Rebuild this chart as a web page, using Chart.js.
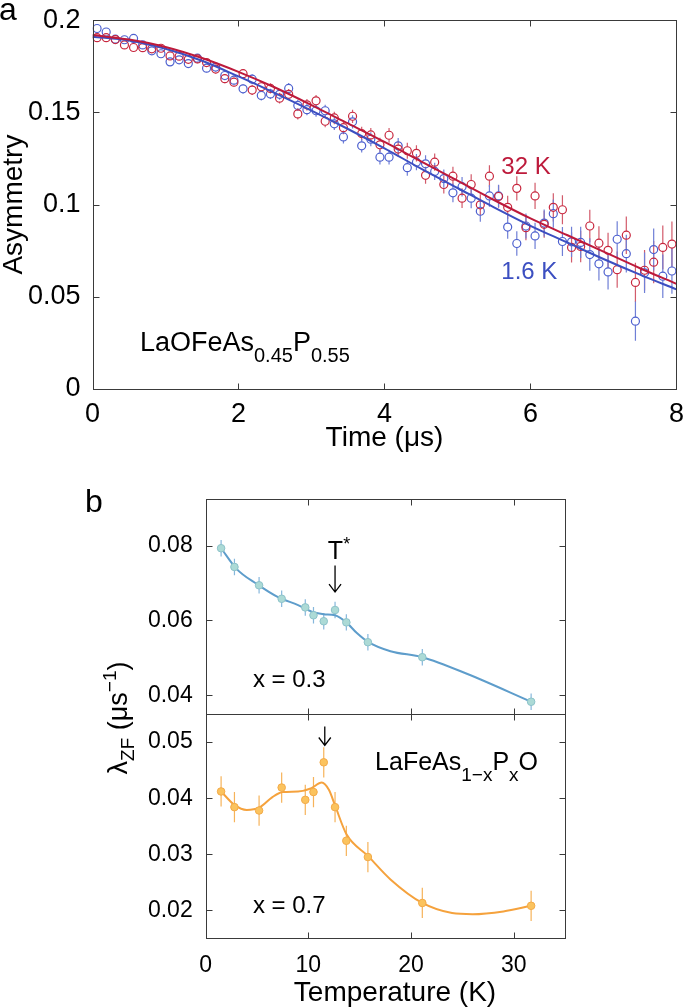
<!DOCTYPE html>
<html>
<head>
<meta charset="utf-8">
<script src="https://cdn.jsdelivr.net/npm/chart.js@4.4.0/dist/chart.umd.min.js"></script>
<style>
  body { margin: 0; background: #fff; width: 685px; height: 1007px; position: relative; overflow: hidden; }
  canvas { position: absolute; left: 0; }
  #chartA { top: 0; }
  #chartB { top: 480px; }
</style>
</head>
<body>
<canvas id="chartA" width="685" height="470"></canvas>
<canvas id="chartB" width="685" height="527"></canvas>
<script>
// ---- panel a : zero-field asymmetry, LaOFeAs0.45P0.55 ----
const timeA = [0.0625,0.1875,0.3125,0.4375,0.5625,0.6875,0.8125,0.9375,1.0625,1.1875,1.3125,1.4375,1.5625,1.6875,1.8125,1.9375,
  2.0625,2.1875,2.3125,2.4375,2.5625,2.6875,2.8125,2.9375,3.0625,3.1875,3.3125,3.4375,3.5625,3.6875,3.8125,3.9375,
  4.0625,4.1875,4.3125,4.4375,4.5625,4.6875,4.8125,4.9375,5.0625,5.1875,5.3125,5.4375,5.5625,5.6875,5.8125,5.9375,
  6.0625,6.1875,6.3125,6.4375,6.5625,6.6875,6.8125,6.9375,7.0625,7.1875,7.3125,7.4375,7.5625,7.6875,7.8125,7.9375];
const asym32K = [0.1905,0.1905,0.1895,0.1866,0.1852,0.1851,0.1845,0.1848,0.1806,0.1805,0.1788,0.1790,0.1770,0.1735,0.1683,0.1664,
  0.1710,0.1621,0.1639,0.1630,0.1577,0.1598,0.1492,0.1541,0.1563,0.1452,0.1470,0.1417,0.1479,0.1385,0.1378,0.1324,
  0.1376,0.1301,0.1292,0.1278,0.1159,0.1230,0.1109,0.1154,0.1035,0.1109,0.0999,0.1154,0.1044,0.0985,0.1088,0.0875,
  0.1047,0.0893,0.0985,0.0972,0.0768,0.0773,0.0884,0.0791,0.0752,0.0647,0.0834,0.0578,0.0644,0.0688,0.0768,0.0786];
const asym1p6K = [0.1955,0.1936,0.1897,0.1894,0.1901,0.1866,0.1834,0.1818,0.1774,0.1785,0.1765,0.1794,0.1740,0.1746,0.1700,0.1675,
  0.1628,0.1680,0.1592,0.1600,0.1598,0.1630,0.1538,0.1515,0.1509,0.1509,0.1438,0.1367,0.1449,0.1319,0.1355,0.1257,
  0.1257,0.1319,0.1200,0.1230,0.1221,0.1180,0.1141,0.1064,0.1097,0.1035,0.0964,0.1047,0.1047,0.0878,0.0789,0.0884,
  0.0830,0.0900,0.0951,0.0800,0.0798,0.0795,0.0729,0.0679,0.0635,0.0812,0.0734,0.0368,0.0630,0.0756,0.0612,0.0640];
const asymErr = [0.0018,0.0018,0.0019,0.0019,0.0020,0.0020,0.0021,0.0021,0.0022,0.0022,0.0023,0.0023,0.0024,0.0024,0.0025,0.0025,
  0.0026,0.0027,0.0027,0.0028,0.0029,0.0029,0.0030,0.0031,0.0032,0.0033,0.0034,0.0035,0.0036,0.0037,0.0038,0.0039,
  0.0040,0.0042,0.0043,0.0044,0.0046,0.0047,0.0049,0.0051,0.0053,0.0055,0.0057,0.0059,0.0061,0.0063,0.0066,0.0068,
  0.0071,0.0073,0.0076,0.0079,0.0082,0.0085,0.0088,0.0091,0.0095,0.0098,0.0102,0.0106,0.0110,0.0114,0.0118,0.0123];
// fitted curves
const timeFit = [0,0.5,1,1.5,2,2.5,3,3.5,4,4.5,5,5.5,6,6.5,7,7.5,8];
const fit32K = [0.192,0.1895,0.1855,0.1795,0.172,0.1635,0.154,0.144,0.134,0.1235,0.113,0.1025,0.0925,0.0835,0.0745,0.0655,0.057];
const fit1p6K = [0.191,0.189,0.1845,0.178,0.1695,0.1605,0.151,0.141,0.1305,0.1195,0.109,0.0985,0.0885,0.0795,0.0705,0.062,0.054];
const tickTimeA = [0, 2, 4, 6, 8];
const tickAsymA = [0, 0.05, 0.1, 0.15, 0.2];

// ---- panel b : relaxation rate vs temperature ----
const tempB = [1.5, 2.8, 5.2, 7.4, 9.7, 10.5, 11.5, 12.6, 13.7, 15.8, 21.1, 31.7];
const lambdaX03 = [0.0793,0.0743,0.0694,0.0658,0.0635,0.0614,0.0598,0.0628,0.0595,0.0542,0.0502,0.0383];
const errX03 = [0.0022,0.0022,0.0022,0.0022,0.0022,0.0022,0.0022,0.0022,0.0022,0.0022,0.0022,0.0022];
const lambdaX07 = [0.0412,0.0384,0.0378,0.0419,0.0397,0.0411,0.0464,0.0384,0.0324,0.0295,0.0213,0.0208];
const errX07 = [0.0027,0.0027,0.0027,0.0027,0.0027,0.0027,0.0027,0.0027,0.0027,0.0027,0.0027,0.0027];
const tempFit03 = [1.5,3,5,7,9,10.5,11.5,12.6,13.7,14.7,15.8,18,21.1,25.5,31.7];
const fitX03 = [0.0793,0.0738,0.0697,0.0663,0.0641,0.0622,0.0617,0.0614,0.0595,0.0567,0.0543,0.0518,0.0502,0.0457,0.0383];
const tempFit07 = [1.5,2.8,4,5.2,6.5,7.5,9,10.3,11.3,12,12.6,13.7,15.8,18,21.1,24,26,29,31.7];
const fitX07 = [0.0412,0.0388,0.0379,0.0383,0.0402,0.0411,0.0412,0.0418,0.0428,0.0415,0.0387,0.0336,0.0297,0.0255,0.0213,0.0195,0.0193,0.0198,0.0208];
const tickTempB = [0, 10, 20, 30];
const tickLamTop = [0.04, 0.06, 0.08];
const tickLamBot = [0.02, 0.03, 0.04, 0.05];

const FONT = '"Liberation Sans", Arial, Helvetica, sans-serif';
Chart.defaults.font.family = FONT;
Chart.defaults.color = '#000';

const RED = '#bd1a3b', BLUE = '#3c4fc1';
const pts = (xs, ys) => xs.map((x, i) => ({ x, y: ys[i] }));
const fmt = v => String(+(+v).toFixed(4));

function richText(ctx, x, y, parts, align, rotate, color) {
  ctx.save();
  ctx.translate(x, y);
  if (rotate) ctx.rotate(-Math.PI / 2);
  ctx.fillStyle = color || '#000';
  ctx.textBaseline = 'alphabetic';
  ctx.textAlign = 'left';
  let w = 0;
  for (const [txt, size] of parts) { ctx.font = size + 'px ' + FONT; w += ctx.measureText(txt).width; }
  let cx = align === 'center' ? -w / 2 : 0;
  for (const [txt, size, dy] of parts) {
    ctx.font = size + 'px ' + FONT;
    ctx.fillText(txt, cx, dy || 0);
    cx += ctx.measureText(txt).width;
  }
  ctx.restore();
}

// frame with inward ticks, error bars, arrows and labels
function makeDecor(spec) {
  return {
    id: 'decor',
    beforeDatasetsDraw(chart) {
      const ctx = chart.ctx;
      chart.data.datasets.forEach((ds, i) => {
        if (!ds.errs) return;
        const meta = chart.getDatasetMeta(i);
        const xs = chart.scales[meta.xAxisID], ys = chart.scales[meta.yAxisID];
        const gap = ds.hollow ? ds.pointRadius : 0;
        ctx.save();
        ctx.strokeStyle = ds.errColor;
        ctx.lineWidth = 1.2;
        ds.data.forEach((p, j) => {
          const px = xs.getPixelForValue(p.x), py = ys.getPixelForValue(p.y);
          const hi = ys.getPixelForValue(p.y + ds.errs[j]), lo = ys.getPixelForValue(p.y - ds.errs[j]);
          ctx.beginPath();
          if (hi < py - gap) { ctx.moveTo(px, hi); ctx.lineTo(px, py - gap); }
          if (lo > py + gap) { ctx.moveTo(px, py + gap); ctx.lineTo(px, lo); }
          ctx.stroke();
        });
        ctx.restore();
      });
    },
    afterDraw(chart) {
      const ctx = chart.ctx;
      ctx.save();
      ctx.strokeStyle = '#3a3a3a';
      ctx.lineWidth = 1;
      for (const f of spec.frames) {
        const xs = chart.scales[f.x], ys = chart.scales[f.y];
        const l = Math.round(xs.left) + 0.5, r = Math.round(xs.right) + 0.5;
        const t = Math.round(ys.top) + 0.5, b = Math.round(ys.bottom) + 0.5;
        ctx.strokeRect(l, t, r - l, b - t);
        ctx.beginPath();
        for (const v of f.xt) {
          const px = Math.round(xs.getPixelForValue(v)) + 0.5;
          ctx.moveTo(px, b); ctx.lineTo(px, b - 6);
          ctx.moveTo(px, t); ctx.lineTo(px, t + 6);
        }
        for (const v of f.yt) {
          const py = Math.round(ys.getPixelForValue(v)) + 0.5;
          ctx.moveTo(l, py); ctx.lineTo(l + 6, py);
          ctx.moveTo(r, py); ctx.lineTo(r - 6, py);
        }
        ctx.stroke();
      }
      ctx.strokeStyle = '#000';
      ctx.lineWidth = 1.3;
      for (const a of spec.arrows || []) {
        const xs = chart.scales[a.x], ys = chart.scales[a.y];
        const px = xs.getPixelForValue(a.vx), y0 = ys.getPixelForValue(a.from), y1 = ys.getPixelForValue(a.to);
        ctx.beginPath();
        ctx.moveTo(px, y0); ctx.lineTo(px, y1);
        ctx.moveTo(px - 6, y1 - 8); ctx.lineTo(px, y1); ctx.lineTo(px + 6, y1 - 8);
        ctx.stroke();
      }
      ctx.restore();
      for (const n of spec.texts) {
        const [px, py] = n.at ? n.at(chart.chartArea)
          : [chart.scales[n.x].getPixelForValue(n.vx), chart.scales[n.y].getPixelForValue(n.vy)];
        richText(ctx, px, py, n.parts, n.align, n.rotate, n.color);
      }
    }
  };
}

function axis(extra) {
  return Object.assign({
    type: 'linear',
    grid: { display: false },
    border: { display: false },
  }, extra);
}

// ---------- chart a ----------
new Chart(document.getElementById('chartA'), {
  type: 'scatter',
  data: {
    datasets: [
      { type: 'line', data: pts(timeFit, fit32K), borderColor: RED, borderWidth: 2, pointRadius: 0, cubicInterpolationMode: 'monotone', fill: false },
      { type: 'line', data: pts(timeFit, fit1p6K), borderColor: BLUE, borderWidth: 2, pointRadius: 0, cubicInterpolationMode: 'monotone', fill: false },
      { data: pts(timeA, asym32K), errs: asymErr, hollow: true, errColor: '#d25b6b', pointStyle: 'circle', pointRadius: 4, pointBorderWidth: 1.2, borderColor: '#c8283f', backgroundColor: 'rgba(0,0,0,0)' },
      { data: pts(timeA, asym1p6K), errs: asymErr, hollow: true, errColor: '#6f7fd6', pointStyle: 'circle', pointRadius: 4, pointBorderWidth: 1.2, borderColor: '#4d60cf', backgroundColor: 'rgba(0,0,0,0)' },
    ],
  },
  options: {
    responsive: false,
    animation: false,
    devicePixelRatio: 1,
    layout: { padding: { left: 0, top: 14, right: 7, bottom: 0 } },
    plugins: { legend: { display: false }, tooltip: { enabled: false } },
    scales: {
      x: axis({
        min: 0, max: 8,
        afterBuildTicks: s => { s.ticks = tickTimeA.map(v => ({ value: v })); },
        afterFit: s => { s.height = 81; },
        ticks: { font: { size: 27 }, padding: 1, autoSkip: false, maxRotation: 0, callback: fmt },
      }),
      y: axis({
        min: 0, max: 0.2,
        afterBuildTicks: s => { s.ticks = tickAsymA.map(v => ({ value: v })); },
        afterFit: s => { s.width = 92.5; },
        ticks: { font: { size: 27 }, padding: 4, autoSkip: false, callback: fmt },
      }),
    },
  },
  plugins: [makeDecor({
    frames: [{ x: 'x', y: 'y', xt: tickTimeA, yt: tickAsymA }],
    texts: [
      { at: c => [-1, 20], parts: [['a', 32]] },
      { at: c => [22, (c.top + c.bottom) / 2], parts: [['Asymmetry', 28]], align: 'center', rotate: true },
      { at: c => [(c.left + c.right) / 2, 446], parts: [['Time (μs)', 28]], align: 'center' },
      { x: 'x', y: 'y', vx: 5.6, vy: 0.1168, parts: [['32 K', 24]], color: RED },
      { x: 'x', y: 'y', vx: 5.6, vy: 0.0599, parts: [['1.6 K', 24]], color: BLUE },
      { x: 'x', y: 'y', vx: 0.65, vy: 0.0208, parts: [['LaOFeAs', 27], ['0.45', 20, 11], ['P', 27], ['0.55', 20, 11]] },
    ],
  })],
});

// ---------- chart b (two stacked panels sharing the temperature axis) ----------
// in a Chart.js stack the axis declared last sits on top
new Chart(document.getElementById('chartB'), {
  type: 'scatter',
  data: {
    datasets: [
      { data: pts(tempB, lambdaX03), yAxisID: 'yTop', errs: errX03, errColor: '#86b7dc', pointStyle: 'circle', pointRadius: 3.8, pointBorderWidth: 1, borderColor: '#8cc2c9', backgroundColor: '#acdad6' },
      { data: pts(tempB, lambdaX07), yAxisID: 'yBot', errs: errX07, errColor: '#f6b35a', pointStyle: 'circle', pointRadius: 3.8, pointBorderWidth: 1, borderColor: '#f3aa48', backgroundColor: '#fbc35e' },
      { type: 'line', data: pts(tempFit03, fitX03), yAxisID: 'yTop', borderColor: '#5e9dcb', borderWidth: 2, pointRadius: 0, cubicInterpolationMode: 'monotone', fill: false },
      { type: 'line', data: pts(tempFit07, fitX07), yAxisID: 'yBot', borderColor: '#f5a23d', borderWidth: 2, pointRadius: 0, cubicInterpolationMode: 'monotone', fill: false },
    ],
  },
  options: {
    responsive: false,
    animation: false,
    devicePixelRatio: 1,
    layout: { padding: { left: 0, top: 12.7, right: 120, bottom: 0 } },
    plugins: { legend: { display: false }, tooltip: { enabled: false } },
    scales: {
      x: axis({
        min: 0, max: 35,
        afterBuildTicks: s => { s.ticks = tickTempB.map(v => ({ value: v })); },
        afterFit: s => { s.height = 68.7; },
        ticks: { font: { size: 23 }, padding: 6, autoSkip: false, maxRotation: 0, callback: fmt },
      }),
      yBot: axis({
        position: 'left', stack: 'b', stackWeight: 227.3,
        min: 0.015, max: 0.055,
        afterBuildTicks: s => { s.ticks = tickLamBot.map(v => ({ value: v })); },
        afterFit: s => { s.width = 205.7; },
        ticks: { font: { size: 23 }, padding: 5, autoSkip: false, callback: fmt },
      }),
      yTop: axis({
        position: 'left', stack: 'b', stackWeight: 218.3,
        min: 0.035, max: 0.0925,
        afterBuildTicks: s => { s.ticks = tickLamTop.map(v => ({ value: v })); },
        afterFit: s => { s.width = 205.7; },
        ticks: { font: { size: 23 }, padding: 5, autoSkip: false, callback: fmt },
      }),
    },
  },
  plugins: [makeDecor({
    frames: [
      { x: 'x', y: 'yTop', xt: tickTempB, yt: tickLamTop },
      { x: 'x', y: 'yBot', xt: tickTempB, yt: tickLamBot },
    ],
    arrows: [
      { x: 'x', y: 'yTop', vx: 12.6, from: 0.0747, to: 0.0676 },
      { x: 'x', y: 'yBot', vx: 11.6, from: 0.0528, to: 0.0494 },
    ],
    texts: [
      { at: c => [85, 32], parts: [['b', 32]] },
      { at: c => [127, 238], parts: [['λ', 27], ['ZF', 19, 7], [' (μs', 27], ['−1', 19, -11], [')', 27]], align: 'center', rotate: true },
      { at: c => [395, 521], parts: [['Temperature (K)', 28]], align: 'center' },
      { x: 'x', y: 'yTop', vx: 11.9, vy: 0.0765, parts: [['T', 25], ['*', 18, -9]] },
      { x: 'x', y: 'yTop', vx: 4.6, vy: 0.0422, parts: [['x = 0.3', 24]] },
      { x: 'x', y: 'yBot', vx: 4.6, vy: 0.0196, parts: [['x = 0.7', 24]] },
      { x: 'x', y: 'yBot', vx: 16.5, vy: 0.045, parts: [['LaFeAs', 25], ['1−x', 19, 11], ['P', 25], ['x', 19, 11], ['O', 25]] },
    ],
  })],
});
</script>
</body>
</html>
